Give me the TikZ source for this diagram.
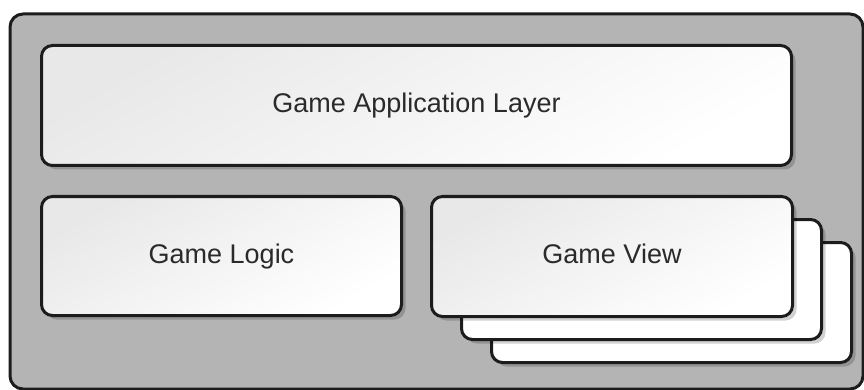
\documentclass[tikz,border=0pt]{standalone}
\usepackage{fontspec}
\setmainfont{Liberation Sans}
\usetikzlibrary{shadows}
\definecolor{bgray}{HTML}{B4B4B4}
\definecolor{edge}{HTML}{1C1C1C}
\definecolor{txt}{HTML}{2A2A2A}
\begin{document}
\begin{tikzpicture}[x=1pt,y=-1pt,
  layerbox/.style={draw=edge, line width=3pt, rounded corners=11pt,
    top color=black!9, bottom color=white, shading angle=30,
    text=txt, font=\fontsize{27}{32}\selectfont, text height=19pt, text depth=5pt,
    drop shadow={shadow xshift=4pt, shadow yshift=-4pt, opacity=0.18, fill=black}},
  backbox/.style={draw=edge, line width=3pt, rounded corners=11pt, fill=white,
    drop shadow={shadow xshift=4pt, shadow yshift=-4pt, opacity=0.18, fill=black}}]
\useasboundingbox (0,0) rectangle (864,390);
\clip (0,0) rectangle (864,390);
\draw[draw=edge, line width=3pt, fill=bgray, rounded corners=13pt] (10,14) rectangle (863,389);
% stacked game views
\node[backbox, minimum width=360pt, minimum height=120pt, anchor=north west] (gv3) at (490,241) {};
\node[backbox, minimum width=360pt, minimum height=120pt, anchor=north west] (gv2) at (460,218) {};
\node[layerbox, minimum width=361pt, minimum height=120pt, anchor=north west] (gv) at (430,195) {Game View};
\node[layerbox, minimum width=360pt, minimum height=119pt, anchor=north west] (gl) at (40,195) {Game Logic};
\node[layerbox, minimum width=750pt, minimum height=120pt, anchor=north west] (gal) at (40,44) {Game Application Layer};
\end{tikzpicture}
\end{document}
